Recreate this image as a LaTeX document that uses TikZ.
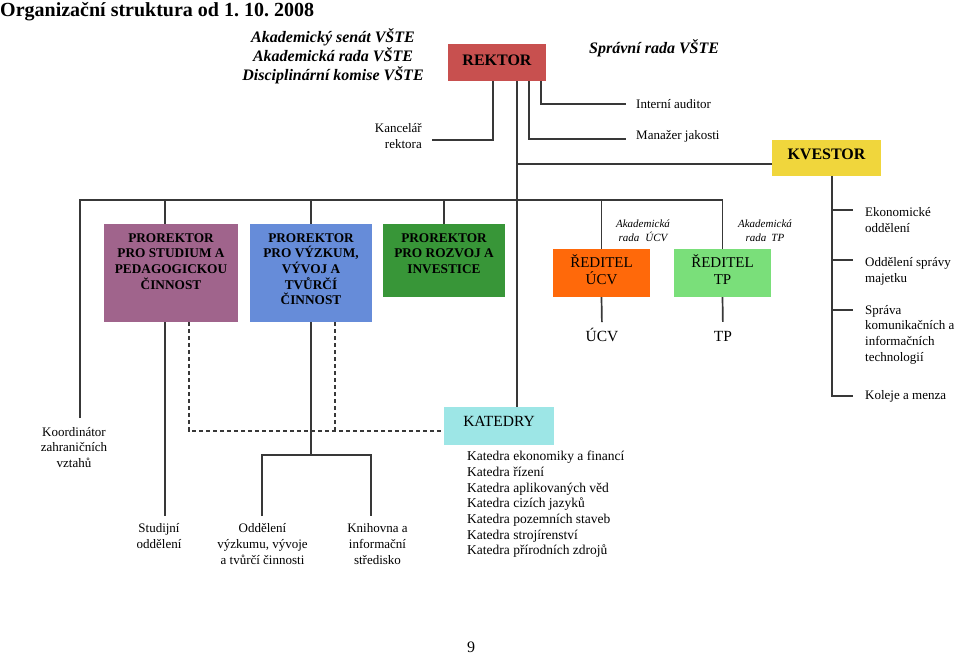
\documentclass[tikz,border=0pt]{standalone}
\usepackage{fontspec}
\setmainfont{Liberation Serif}
\usetikzlibrary{positioning}
\frenchspacing

\definecolor{rektorRed}{HTML}{C8504F}
\definecolor{kvestorYellow}{HTML}{F0D63C}
\definecolor{studMauve}{HTML}{A0648C}
\definecolor{vyzBlue}{HTML}{668CD9}
\definecolor{rozGreen}{HTML}{389638}
\definecolor{ucvOrange}{HTML}{FF690A}
\definecolor{tpGreen}{HTML}{7ADF7A}
\definecolor{katCyan}{HTML}{9DE6E6}
\definecolor{lineGray}{HTML}{383838}

\tikzset{
  orgbox/.style={draw=none,inner sep=0pt,align=center},
  orgtxt/.style={inner sep=0pt,align=center,font=\fontsize{13}{15.7}\selectfont},
  conn/.style={draw=lineGray,line width=1.7pt},
  dconn/.style={conn,line width=1.4pt,dash pattern=on 4pt off 3pt},
}

\begin{document}
\begin{tikzpicture}[x=1pt,y=-1pt]
	\useasboundingbox (0,0) rectangle (960,655);
	\def\prfont{\fontsize{13.3}{15.7}\selectfont\bfseries}
	\def\headfont{\fontsize{16}{19}\selectfont\bfseries\itshape}
	\def\boxfont{\fontsize{16}{19}\selectfont\bfseries}
	% title, councils, rektor
	\node[anchor=base west,inner sep=0pt,font=\fontsize{20}{24}\selectfont\bfseries] (title) at (0,16.6) {Organizační struktura od 1. 10. 2008};
	\node[anchor=north,inner sep=0pt,font=\headfont,align=center] (rady) at (333,28) {Akademický senát VŠTE\\Akademická rada VŠTE\\Disciplinární komise VŠTE};
	\node[anchor=base west,inner sep=0pt,font=\headfont] (spravni) at (589,53.5) {Správní rada VŠTE};
	\node[orgbox,fill=rektorRed,minimum width=98pt,minimum height=37pt,text depth=5pt,font=\boxfont] (rektor) at (497,62.5) {REKTOR};
	\node[orgtxt,anchor=north east,align=right] (kancelar) at (422,123.5) {Kancelář\\rektora};
	\node[orgtxt,anchor=base west] (auditor) at (636,108.5) {Interní auditor};
	\node[orgtxt,anchor=base west] (manazer) at (636,140) {Manažer jakosti};
	\node[orgbox,fill=kvestorYellow,minimum width=109pt,minimum height=36pt,text depth=8pt,font=\boxfont] (kvestor) at (826.5,158) {KVESTOR};
	% prorektori
	\node[orgbox,fill=studMauve,minimum width=134pt,minimum height=98pt] (prStud) at (171,273) {};
	\node[orgtxt,font=\prfont,below=9.3pt of prStud.north] (prStudTxt) {PROREKTOR\\PRO STUDIUM A\\PEDAGOGICKOU\\ČINNOST};
	\node[orgbox,fill=vyzBlue,minimum width=122pt,minimum height=98pt] (prVyz) at (311,273) {};
	\node[orgtxt,font=\prfont,below=9.3pt of prVyz.north] (prVyzTxt) {PROREKTOR\\PRO VÝZKUM,\\VÝVOJ A\\TVŮRČÍ\\ČINNOST};
	\node[orgbox,fill=rozGreen,minimum width=122pt,minimum height=73pt] (prRoz) at (444,260.5) {};
	\node[orgtxt,font=\prfont,below=9.3pt of prRoz.north] (prRozTxt) {PROREKTOR\\PRO ROZVOJ A\\INVESTICE};
	% reditele
	\node[orgbox,fill=ucvOrange,minimum width=97pt,minimum height=48pt,text depth=6pt,font=\fontsize{15}{17}\selectfont] (redUCV) at (601.5,273) {ŘEDITEL\\ÚCV};
	\node[orgbox,fill=tpGreen,minimum width=97pt,minimum height=48pt,text depth=6pt,font=\fontsize{15}{17}\selectfont] (redTP) at (722.5,273) {ŘEDITEL\\TP};
	\node[orgtxt,anchor=base,font=\fontsize{15.5}{18}\selectfont] (ucv) at (602,341.7) {ÚCV};
	\node[orgtxt,anchor=base,font=\fontsize{15.5}{18}\selectfont] (tp) at (723,341.7) {TP};
	\node[orgtxt,anchor=north,font=\fontsize{11}{13.5}\selectfont\itshape] (akUCV) at (643,219.7) {Akademická\\rada\hspace{6pt}ÚCV};
	\node[orgtxt,anchor=north,font=\fontsize{11}{13.5}\selectfont\itshape] (akTP) at (765,219.7) {Akademická\\rada\hspace{5pt}TP};
	% kvestor units
	\node[orgtxt,anchor=north west,align=left] (ekon) at (865,207.7) {Ekonomické\\oddělení};
	\node[orgtxt,anchor=north west,align=left] (majetek) at (865,257.2) {Oddělení správy\\majetku};
	\node[orgtxt,anchor=north west,align=left] (ikt) at (865,305) {Správa\\komunikačních a\\informačních\\technologií};
	\node[orgtxt,anchor=west] (koleje) at (865,396) {Koleje a menza};
	% katedry
	\node[orgbox,fill=katCyan,minimum width=110pt,minimum height=38pt,text depth=10pt,font=\fontsize{15.5}{18}\selectfont] (katedry) at (499,426) {KATEDRY};
	\node[orgtxt,anchor=north west,align=left,font=\fontsize{13.5}{15.7}\selectfont] (katList) at (467,451) {Katedra ekonomiky a financí\\Katedra řízení\\Katedra aplikovaných věd\\Katedra cizích jazyků\\Katedra pozemních staveb\\Katedra strojírenství\\Katedra přírodních zdrojů};
	% lower units
	\node[orgtxt,anchor=north] (koord) at (74,427) {Koordinátor\\zahraničních\\vztahů};
	\node[orgtxt,anchor=north] (studijni) at (159,523.5) {Studijní\\oddělení};
	\node[orgtxt,anchor=north] (oddVyz) at (262.5,523.5) {Oddělení\\výzkumu, vývoje\\a tvůrčí činnosti};
	\node[orgtxt,anchor=north] (knihovna) at (377.5,523.5) {Knihovna a\\informační\\středisko};
	\node[anchor=base,inner sep=0pt,font=\fontsize{16}{19}\selectfont] (page) at (471,652) {9};
	% rektor links
	\draw[conn] ([xshift=-4pt]rektor.south) |- ([xshift=10pt,yshift=-4pt]kancelar.east);
	\draw[conn] ([xshift=32pt]rektor.south) |- ([xshift=-10pt,yshift=-2pt]manazer.west);
	\draw[conn] ([xshift=44pt]rektor.south) |- ([xshift=-10pt]auditor.west);
	\draw[conn] ([xshift=20pt]rektor.south) -- ([xshift=18pt]katedry.north);
	\coordinate (kvJoin) at (517,164);
	\draw[conn] (kvJoin) -- (kvJoin -| kvestor.west);
	% main bar
	\coordinate (trunk) at (517,200);
	\coordinate (koordEnd) at (80,418);
	\draw[conn] (koordEnd) |- (redTP.north |- trunk);
	\coordinate (studEnd) at (165,516);
	\draw[conn] (studEnd |- trunk) -- (prStud.north -| studEnd);
	\draw[conn] (prStud.south -| studEnd) -- (studEnd);
	\foreach \bx in {prVyz,prRoz,redUCV,redTP}
		\draw[conn] (\bx.north |- trunk) -- (\bx.north);
	\draw[conn,shorten >=6pt] (redUCV.south) -- (ucv.north);
	\draw[conn,shorten >=9.5pt] (redTP.south) -- (tp.north);
	% vyzkum fork
	\coordinate (vyzFork) at (311,455);
	\coordinate (oddEnd) at (262,516);
	\coordinate (knihEnd) at (371,516);
	\draw[conn] (prVyz.south) -- (vyzFork);
	\draw[conn] (oddEnd) |- (vyzFork) -| (knihEnd);
	% dashed links to katedry
	\coordinate (dashJoin) at (335,431);
	\draw[dconn] ([xshift=18pt]prStud.south) |- ([yshift=-5pt]katedry.west);
	\draw[dconn] ([xshift=24pt]prVyz.south) -- (dashJoin);
	% kvestor line
	\coordinate (kvLine) at ([xshift=5.5pt]kvestor.south);
	\draw[conn] (kvLine) |- ([xshift=-12pt]koleje.west);
	\foreach \nm/\ty in {ekon/210,majetek/260,ikt/310}
		\draw[conn,shorten >=12pt] (kvLine |- 0,\ty) -- (\nm.west |- 0,\ty);
\end{tikzpicture}
\end{document}
